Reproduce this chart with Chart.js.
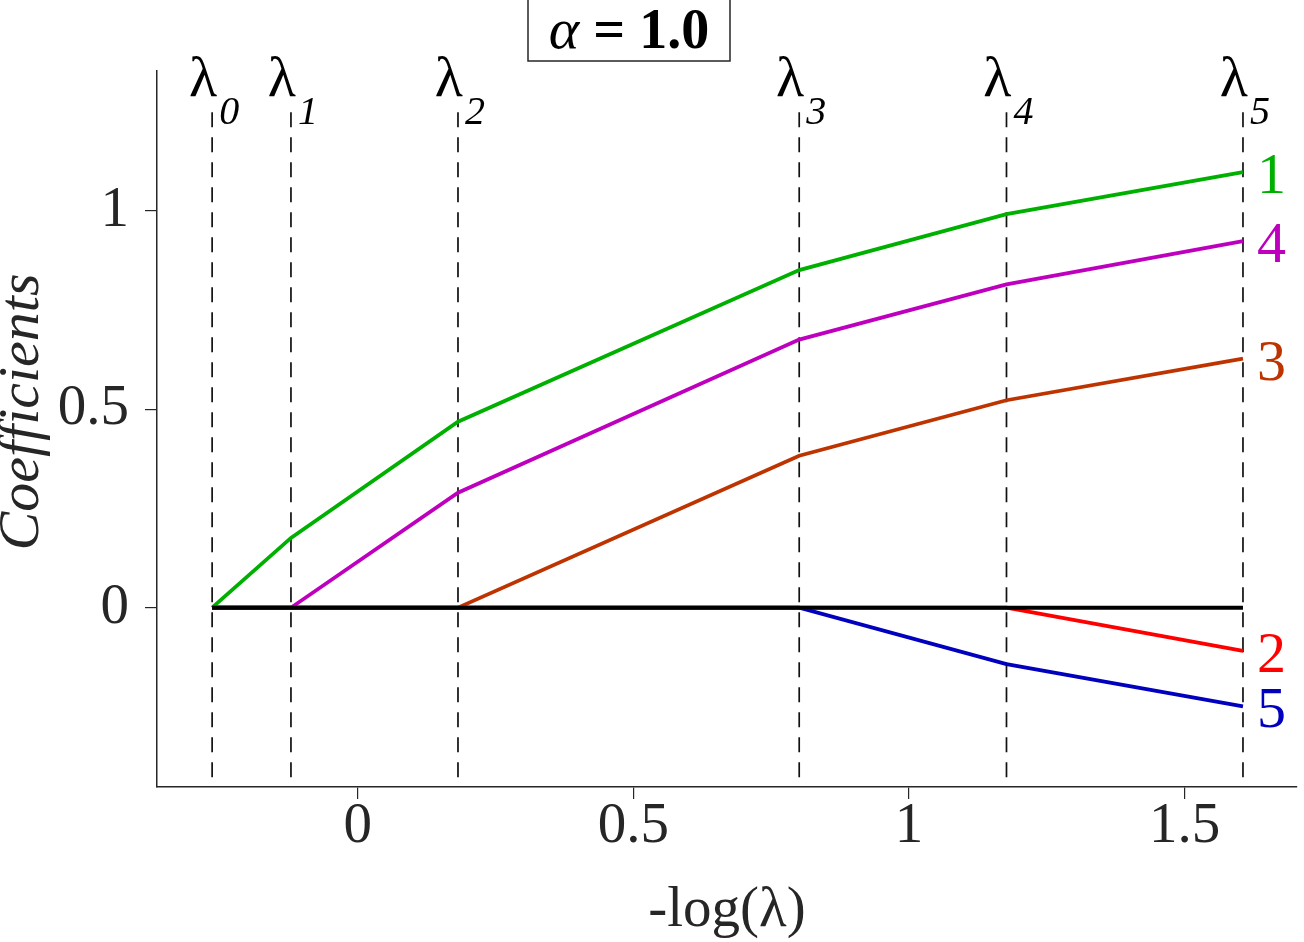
<!DOCTYPE html>
<html>
<head>
<meta charset="utf-8">
<script src="https://cdn.jsdelivr.net/npm/chart.js@4.4.0/dist/chart.umd.min.js"></script>
<style>
html,body{margin:0;padding:0;background:#fff;}
#wrap{width:1304px;height:942px;position:relative;}
</style>
</head>
<body>
<div id="wrap"><canvas id="c"></canvas></div>
<script>
// ---- data ----
const lambdaX = [-0.264, -0.121, 0.182, 0.801, 1.177, 1.606];
const lambdaNames = ['0', '1', '2', '3', '4', '5'];
const coef1 = [0, 0.176, 0.469, 0.851, 0.992, 1.098];
const coef2 = [0, 0, 0, 0, 0, -0.109];
const coef3 = [0, 0, 0, 0.383, 0.523, 0.628];
const coef4 = [0, 0, 0.290, 0.676, 0.815, 0.924];
const coef5 = [0, 0, 0, 0, -0.142, -0.249];
const zeroLine = [0, 0, 0, 0, 0, 0];
const seriesNames = ['1', '2', '3', '4', '5'];
const seriesValues = [coef1, coef2, coef3, coef4, coef5];
const seriesColors = ['rgb(0,176,0)', 'rgb(255,0,0)', 'rgb(190,52,0)', 'rgb(190,0,190)', 'rgb(0,0,190)'];
const xTicks = [0, 0.5, 1, 1.5];
const yTicks = [0, 0.5, 1];
const xRange = [-0.364, 1.704];
const yRange = [-0.452, 1.353];
const dashTop = 1.249;
const alphaValue = '1.0';
const yTitle = 'Coefficients';

const SERIF = '"Liberation Serif", "Times New Roman", serif';
const AXIS = '#262626';

const toPts = (vals) => lambdaX.map((x, i) => ({x: x, y: vals[i]}));

const datasets = [];
datasets.push({data: toPts(zeroLine), borderColor: '#000', borderWidth: 4, order: 0});
seriesValues.forEach((v, i) => {
  datasets.push({data: toPts(v), borderColor: seriesColors[i], borderWidth: 3.8, order: 1 + i});
});
lambdaX.forEach((x) => {
  datasets.push({data: [{x: x, y: dashTop}, {x: x, y: yRange[0]}], borderColor: '#111', borderWidth: 1.7,
    borderDash: [15, 10], order: 10});
});
datasets.forEach(d => { d.showLine = true; d.pointRadius = 0; d.fill = false; d.tension = 0; d.clip = false; });

const annot = {
  id: 'annot',
  afterDraw(chart) {
    const ctx = chart.ctx;
    const xs = chart.scales.x, ys = chart.scales.y;
    ctx.save();
    // y axis title
    ctx.save();
    ctx.translate(23, 412);
    ctx.rotate(-Math.PI / 2);
    ctx.fillStyle = AXIS;
    ctx.textAlign = 'center';
    ctx.textBaseline = 'middle';
    ctx.font = 'italic 58px ' + SERIF;
    ctx.fillText(yTitle, 0, 0);
    ctx.restore();
    // lambda labels
    lambdaX.forEach((x, i) => {
      const px = xs.getPixelForValue(x);
      ctx.fillStyle = '#000';
      ctx.textAlign = 'right';
      ctx.textBaseline = 'alphabetic';
      ctx.font = '58px ' + SERIF;
      ctx.fillText('λ', px + 5, 96);
      ctx.textAlign = 'left';
      ctx.font = 'italic 40px ' + SERIF;
      ctx.fillText(lambdaNames[i], px + 7, 124);
    });
    // series labels at right end
    const last = lambdaX.length - 1;
    const pxEnd = xs.getPixelForValue(lambdaX[last]);
    seriesValues.forEach((v, i) => {
      const py = ys.getPixelForValue(v[last]);
      ctx.fillStyle = seriesColors[i];
      ctx.textAlign = 'left';
      ctx.textBaseline = 'alphabetic';
      ctx.font = '58px ' + SERIF;
      ctx.fillText(seriesNames[i], pxEnd + 14, py + 21);
    });
    // title box
    ctx.strokeStyle = AXIS;
    ctx.lineWidth = 1.5;
    ctx.beginPath();
    ctx.moveTo(528, -2); ctx.lineTo(528, 61); ctx.lineTo(730, 61); ctx.lineTo(730, -2);
    ctx.stroke();
    ctx.fillStyle = '#000';
    ctx.textBaseline = 'alphabetic';
    ctx.textAlign = 'left';
    ctx.font = 'italic 58px ' + SERIF;
    const a = 'α';
    const wa = ctx.measureText(a).width;
    ctx.font = 'bold 56px ' + SERIF;
    const rest = ' = ' + alphaValue;
    const wr = ctx.measureText(rest).width;
    const start = 629 - (wa + wr) / 2;
    ctx.font = 'italic 58px ' + SERIF;
    ctx.fillText(a, start, 48);
    ctx.font = 'bold 56px ' + SERIF;
    ctx.fillText(rest, start + wa, 48);
    ctx.restore();
  }
};

new Chart(document.getElementById('c'), {
  type: 'scatter',
  data: {datasets: datasets},
  options: {
    responsive: true,
    maintainAspectRatio: false,
    animation: false,
    events: [],
    layout: {padding: {top: 71, right: 7, left: 0, bottom: 0}},
    plugins: {legend: {display: false}, tooltip: {enabled: false}, title: {display: false}},
    scales: {
      x: {
        type: 'linear', min: xRange[0], max: xRange[1],
        afterBuildTicks: (s) => { s.ticks = xTicks.map(v => ({value: v})); },
        afterFit: (s) => { s.height = 155; },
        grid: {drawOnChartArea: false, drawTicks: true, tickLength: 12, color: AXIS, lineWidth: 1.2},
        border: {display: true, color: AXIS, width: 1.5},
        ticks: {font: {family: SERIF, size: 57, lineHeight: 0.7}, color: AXIS, padding: 8, maxRotation: 0,
          callback: (v) => String(v)},
        title: {display: true, text: '-log(λ)', font: {family: SERIF, size: 57, lineHeight: 1.0}, color: AXIS,
          padding: {top: 0, bottom: 2}}
      },
      y: {
        type: 'linear', min: yRange[0], max: yRange[1],
        afterBuildTicks: (s) => { s.ticks = yTicks.map(v => ({value: v})); },
        afterFit: (s) => { s.width = 157; },
        grid: {drawOnChartArea: false, drawTicks: true, tickLength: 12, color: AXIS, lineWidth: 1.2},
        border: {display: true, color: AXIS, width: 1.5},
        ticks: {font: {family: SERIF, size: 57}, color: AXIS, padding: 16,
          callback: (v) => String(v)},
        title: {display: false}
      }
    }
  },
  plugins: [annot]
});
</script>
</body>
</html>
